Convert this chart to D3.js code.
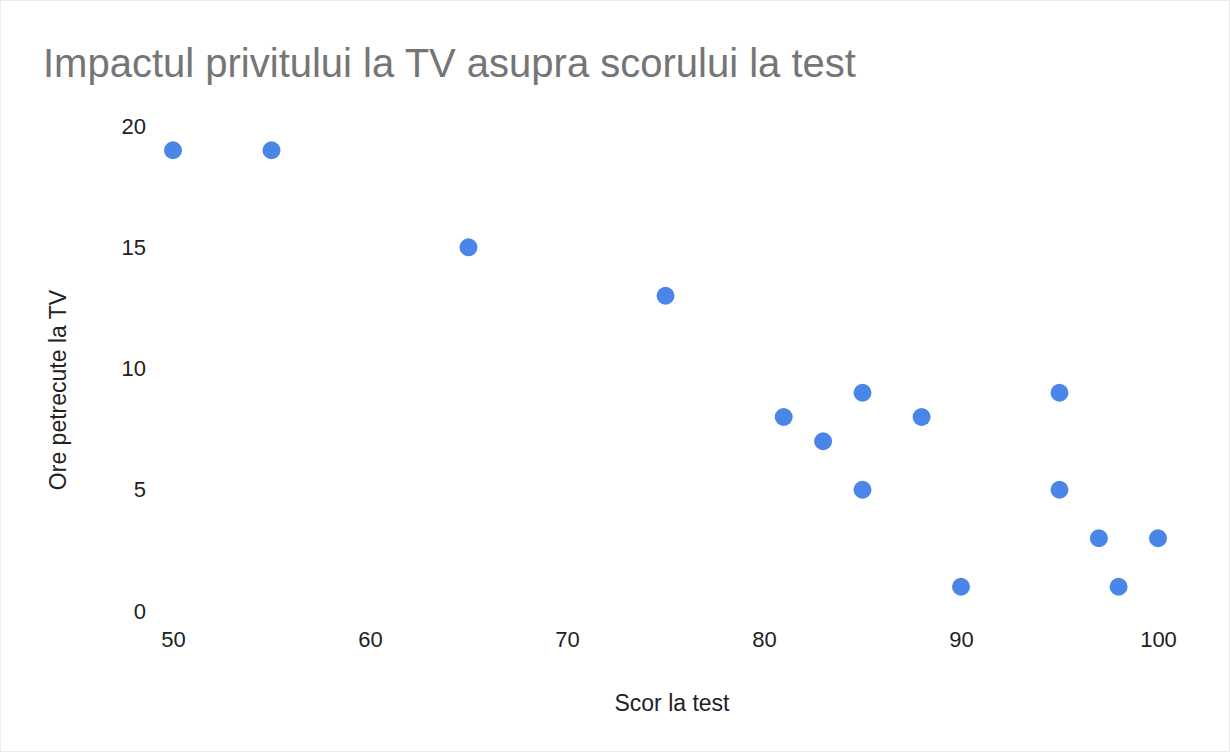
<!DOCTYPE html>
<html>
<head>
<meta charset="utf-8">
<script src="https://cdn.jsdelivr.net/npm/d3@7"></script>
<style>
  body { margin: 0; background: #fff; }
  #chart { width: 1230px; height: 752px; }
</style>
</head>
<body>
<div id="chart"></div>
<script>
//Chart text
const TITLE = "Impactul privitului la TV asupra scorului la test";
const X_TITLE = "Scor la test";
const Y_TITLE = "Ore petrecute la TV";

//Data: test score vs hours of TV
const scores = [50, 55, 65, 75, 81, 83, 85, 85, 88, 90, 95, 95, 97, 98, 100];
const hours  = [19, 19, 15, 13, 8, 7, 9, 5, 8, 1, 9, 5, 3, 1, 3];

//Tick values
const xTicks = [50, 60, 70, 80, 90, 100];
const yTicks = [0, 5, 10, 15, 20];

//Styles
const DOT_COLOR = "#4a86e8";
const FONT = "'Liberation Sans', Arial, sans-serif";
const LABEL_SIZE = 22;
const AXIS_TITLE_SIZE = 23;

const width = 1230;
const height = 752;

//Plot area
const PLOT_LEFT = 173, PLOT_RIGHT = 1158, PLOT_TOP = 126, PLOT_BOTTOM = 611;

var svg = d3.select("#chart")
			.append("svg")
			.attr("width", width)
			.attr("height", height)
			.style("font-family", FONT);

//Light frame round the chart
svg.append("rect")
   .attr("x", 0.5).attr("y", 0.5)
   .attr("width", width - 1).attr("height", height - 1)
   .attr("fill", "#fff")
   .attr("stroke", "#ececec");

var x = d3.scaleLinear()
		  .domain([50, 100])
		  .range([PLOT_LEFT, PLOT_RIGHT]);

var y = d3.scaleLinear()
		  .domain([0, 20])
		  .range([PLOT_BOTTOM, PLOT_TOP]);

//Title
svg.append("text")
   .attr("x", 43)
   .attr("y", 77)
   .attr("fill", "#757575")
   .attr("font-size", 40)
   .text(TITLE);

//X axis (labels only)
var xAxis = svg.append("g")
			   .attr("transform", "translate(0," + 618 + ")")
			   .call(d3.axisBottom(x).tickValues(xTicks).tickSize(0).tickPadding(13));
xAxis.select(".domain").remove();
xAxis.selectAll("text")
	 .attr("font-size", LABEL_SIZE)
	 .attr("font-family", FONT)
	 .attr("fill", "#222");

//Y axis (labels only)
var yAxis = svg.append("g")
			   .attr("transform", "translate(" + 146 + ",0)")
			   .call(d3.axisLeft(y).tickValues(yTicks).tickSize(0).tickPadding(0));
yAxis.select(".domain").remove();
yAxis.selectAll("text")
	 .attr("font-size", LABEL_SIZE)
	 .attr("font-family", FONT)
	 .attr("fill", "#222");

//Axis titles
svg.append("text")
   .attr("x", 672)
   .attr("y", 703)
   .attr("dy", "0.35em")
   .attr("text-anchor", "middle")
   .attr("font-size", AXIS_TITLE_SIZE)
   .attr("fill", "#222")
   .text(X_TITLE);

svg.append("text")
   .attr("transform", "translate(58," + 390 + ") rotate(-90)")
   .attr("dy", "0.35em")
   .attr("text-anchor", "middle")
   .attr("font-size", AXIS_TITLE_SIZE)
   .attr("fill", "#222")
   .text(Y_TITLE);

//Points
svg.append("g")
   .selectAll("circle")
   .data(d3.range(scores.length))
   .enter()
   .append("circle")
   .attr("cx", function(i) { return x(scores[i]); })
   .attr("cy", function(i) { return y(hours[i]); })
   .attr("r", 9)
   .attr("fill", DOT_COLOR);
</script>
</body>
</html>
